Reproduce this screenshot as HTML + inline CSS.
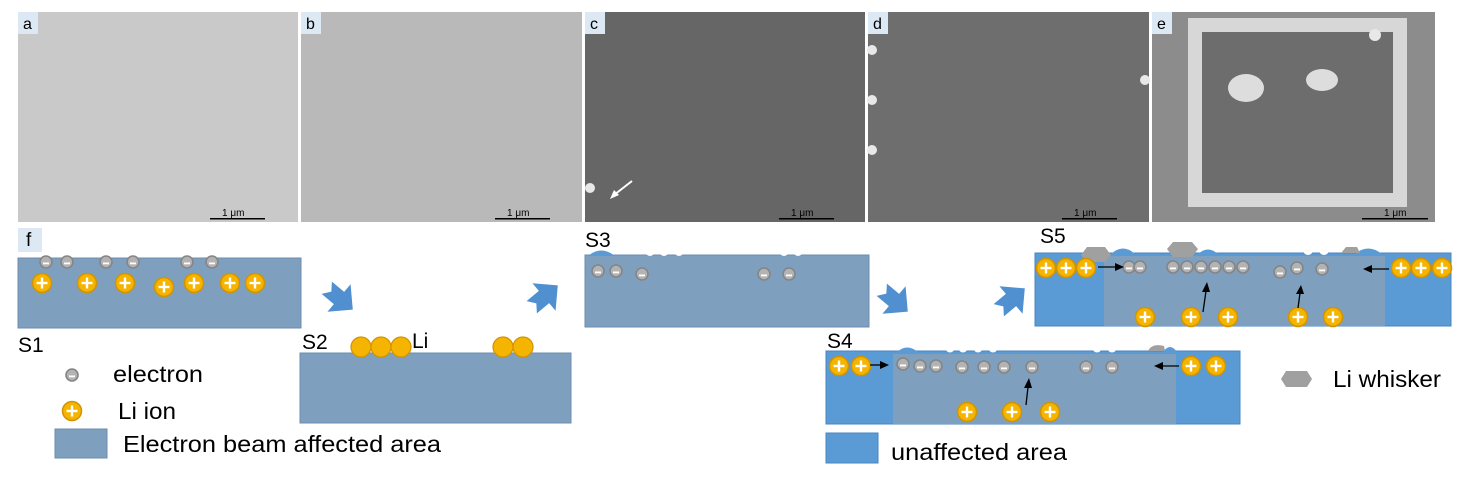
<!DOCTYPE html>
<html><head><meta charset="utf-8"><style>
html,body{margin:0;padding:0;background:#fff;}
svg{display:block;font-family:"Liberation Sans",sans-serif;}
</style></head><body>
<svg width="1471" height="485" viewBox="0 0 1471 485" xmlns="http://www.w3.org/2000/svg">
<defs>
<g id="el"><circle r="6" fill="#b3b3b3" stroke="#858585" stroke-width="1.6"/><rect x="-3" y="0.5" width="6" height="1.8" fill="#fff"/></g>
<g id="ion"><circle r="9.5" fill="#f5b400" stroke="#d29300" stroke-width="1.5"/><rect x="-5.5" y="-1.2" width="11" height="2.4" fill="#fff"/><rect x="-1.2" y="-5.5" width="2.4" height="11" fill="#fff"/></g>
<polygon id="arr" points="-16,-8 0,-8 0,-18 18,0 0,18 0,8 -16,8 -10,0" fill="#5090d0"/>
</defs>
<!-- SEM panels -->
<rect x="18" y="12" width="280" height="210" fill="#c9c9c9"/>
<rect x="301" y="12" width="281" height="210" fill="#b9b9b9"/>
<rect x="585" y="12" width="280" height="210" fill="#666"/>
<rect x="868" y="12" width="281" height="210" fill="#6e6e6e"/>
<rect x="1152" y="12" width="283" height="210" fill="#8c8c8c"/>
<rect x="1195" y="25" width="205" height="175" fill="#6a6a6a" stroke="#e0e0e0" stroke-width="14" opacity="0.9"/>
<ellipse cx="1246" cy="88" rx="18" ry="14" fill="#ddd"/><ellipse cx="1322" cy="80" rx="16" ry="11" fill="#ddd"/>
<g fill="#e8e8e8"><circle cx="1375" cy="35" r="6"/><circle cx="590" cy="188" r="5"/><circle cx="872" cy="50" r="5"/><circle cx="872" cy="100" r="5"/><circle cx="872" cy="150" r="5"/><circle cx="1145" cy="80" r="5"/></g>
<line x1="632" y1="181" x2="614" y2="195" stroke="#fff" stroke-width="2"/><polygon points="610,199 614,190 619,195" fill="#fff"/>
<g font-size="16" fill="#000">
<rect x="18" y="12" width="20" height="22" fill="#dce9f5"/><text x="23" y="29">a</text>
<rect x="301" y="12" width="20" height="22" fill="#dce9f5"/><text x="306" y="29">b</text>
<rect x="585" y="12" width="20" height="22" fill="#dce9f5"/><text x="590" y="29">c</text>
<rect x="868" y="12" width="20" height="22" fill="#dce9f5"/><text x="873" y="29">d</text>
<rect x="1152" y="12" width="20" height="22" fill="#dce9f5"/><text x="1157" y="29">e</text>
</g>
<g font-size="10" fill="#000">
<text x="222" y="216">1 μm</text><rect x="210" y="218" width="55" height="1.5"/>
<text x="507" y="216">1 μm</text><rect x="495" y="218" width="55" height="1.5"/>
<text x="791" y="216">1 μm</text><rect x="779" y="218" width="55" height="1.5"/>
<text x="1074" y="216">1 μm</text><rect x="1062" y="218" width="55" height="1.5"/>
<text x="1384" y="216">1 μm</text><rect x="1362" y="218" width="66" height="1.5"/>
</g>
<!-- f label -->
<rect x="18" y="228" width="24" height="24" fill="#dce9f5"/><text x="26" y="246" font-size="19">f</text>
<!-- S1 -->
<rect x="18" y="258" width="283" height="70" fill="#7f9fbf" stroke="#6b8cad"/>
<g><use href="#el" x="46" y="262"/><use href="#el" x="67" y="262"/><use href="#el" x="106" y="262"/><use href="#el" x="133" y="262"/><use href="#el" x="187" y="262"/><use href="#el" x="212" y="262"/></g>
<g><use href="#ion" x="42" y="283"/><use href="#ion" x="87" y="283"/><use href="#ion" x="125" y="283"/><use href="#ion" x="164" y="287"/><use href="#ion" x="194" y="283"/><use href="#ion" x="230" y="283"/><use href="#ion" x="255" y="283"/></g>
<text x="18" y="352" font-size="21">S1</text>
<!-- arrows -->
<use href="#arr" transform="translate(339,298) rotate(40)"/>
<use href="#arr" transform="translate(544,297) rotate(-40)"/>
<use href="#arr" transform="translate(894,300) rotate(40)"/>
<use href="#arr" transform="translate(1011,300) rotate(-40)"/>
<!-- S2 -->
<rect x="300" y="353" width="271" height="70" fill="#7f9fbf" stroke="#6b8cad"/>
<g fill="#f5b400" stroke="#d29300" stroke-width="1.2"><circle cx="361" cy="347" r="10"/><circle cx="381" cy="347" r="10"/><circle cx="401" cy="347" r="10"/><circle cx="503" cy="347" r="10"/><circle cx="523" cy="347" r="10"/></g>
<text x="302" y="349" font-size="21">S2</text><text x="412" y="348" font-size="21">Li</text>
<!-- S3 -->
<rect x="585" y="255" width="284" height="72" fill="#7f9fbf" stroke="#6b8cad"/>
<path d="M588,256 Q601,245 615,256 Z" fill="#5b9bd5"/>
<g fill="#fff"><circle cx="650" cy="251" r="5"/><circle cx="664" cy="251" r="5"/><circle cx="679" cy="251" r="5"/><circle cx="784" cy="251" r="5"/><circle cx="798" cy="251" r="5"/></g>
<g><use href="#el" x="598" y="271"/><use href="#el" x="616" y="271"/><use href="#el" x="642" y="274"/><use href="#el" x="764" y="274"/><use href="#el" x="789" y="274"/></g>
<text x="585" y="247" font-size="21">S3</text>
<!-- S5 -->
<rect x="1035" y="253" width="416" height="73" fill="#5b9bd5" stroke="#4a86bf"/>
<rect x="1104" y="256" width="281" height="70" fill="#7f9fbf"/>
<path d="M1111,254 Q1123,243 1135,254 Z M1198,254 Q1208,245 1218,254 Z M1355,254 Q1368,243 1382,254 Z" fill="#5b9bd5"/>
<g fill="#fff"><circle cx="1308" cy="250" r="5"/><circle cx="1324" cy="250" r="5"/></g>
<polygon points="1081,255 1087,247 1105,247 1111,255 1105,262 1087,262" fill="#a0a0a0"/>
<polygon points="1167,249 1173,242 1192,242 1198,249 1192,257 1173,257" fill="#a0a0a0"/>
<polygon points="1341,253 1346,247 1357,247 1360,253" fill="#a0a0a0"/>
<g><use href="#ion" x="1046" y="268"/><use href="#ion" x="1066" y="268"/><use href="#ion" x="1086" y="268"/><use href="#ion" x="1401" y="268"/><use href="#ion" x="1421" y="268"/><use href="#ion" x="1442" y="268"/></g>
<g><use href="#el" x="1129" y="267"/><use href="#el" x="1140" y="267"/>
<use href="#el" x="1173" y="267"/><use href="#el" x="1187" y="267"/><use href="#el" x="1201" y="267"/><use href="#el" x="1215" y="267"/><use href="#el" x="1229" y="267"/><use href="#el" x="1243" y="267"/>
<use href="#el" x="1280" y="272"/><use href="#el" x="1297" y="268"/><use href="#el" x="1322" y="269"/></g>
<g><use href="#ion" x="1145" y="317"/><use href="#ion" x="1191" y="317"/><use href="#ion" x="1228" y="317"/><use href="#ion" x="1298" y="317"/><use href="#ion" x="1333" y="317"/></g>
<text x="1040" y="243" font-size="21">S5</text>
<!-- S4 -->
<rect x="826" y="351" width="414" height="73" fill="#5b9bd5" stroke="#4a86bf"/>
<rect x="893" y="354" width="283" height="70" fill="#7f9fbf"/>
<path d="M897,352 Q907,343 918,352 Z" fill="#5b9bd5"/>
<g fill="#fff"><circle cx="950" cy="348" r="4.5"/><circle cx="963" cy="348" r="4.5"/><circle cx="978" cy="348" r="4.5"/><circle cx="993" cy="348" r="4.5"/><circle cx="1097" cy="348" r="4.5"/><circle cx="1112" cy="348" r="4.5"/></g>
<path d="M1148,351 Q1152,343 1164,346 L1165,351 Z" fill="#a0a0a0"/>
<path d="M1163,352 Q1170,342 1177,352 Z" fill="#5b9bd5"/>
<g><use href="#ion" x="839" y="366"/><use href="#ion" x="861" y="366"/><use href="#ion" x="1191" y="366"/><use href="#ion" x="1216" y="366"/></g>
<g><use href="#el" x="903" y="364"/><use href="#el" x="920" y="366"/><use href="#el" x="936" y="366"/><use href="#el" x="962" y="367"/><use href="#el" x="984" y="367"/><use href="#el" x="1004" y="367"/><use href="#el" x="1032" y="367"/><use href="#el" x="1086" y="367"/><use href="#el" x="1112" y="367"/></g>
<g><use href="#ion" x="967" y="412"/><use href="#ion" x="1012" y="412"/><use href="#ion" x="1050" y="412"/></g>
<text x="827" y="348" font-size="21">S4</text>
<!-- black arrows -->
<g stroke="#000" stroke-width="1.3" fill="#000">
<line x1="1098" y1="267" x2="1116" y2="267"/><polygon points="1124,267 1115,263 1115,271" stroke="none"/>
<line x1="1389" y1="269" x2="1372" y2="269"/><polygon points="1363,269 1372,265 1372,273" stroke="none"/>
<line x1="1203" y1="312" x2="1206" y2="291"/><polygon points="1207,282 1202,292 1210,292" stroke="none"/>
<line x1="1298" y1="308" x2="1300" y2="293"/><polygon points="1301,285 1296,294 1304,294" stroke="none"/>
<line x1="870" y1="365" x2="881" y2="365"/><polygon points="889,365 880,361 880,369" stroke="none"/>
<line x1="1179" y1="366" x2="1162" y2="366"/><polygon points="1154,366 1163,362 1163,370" stroke="none"/>
<line x1="1026" y1="405" x2="1028" y2="387"/><polygon points="1029,378 1024,388 1032,388" stroke="none"/>
</g>
<!-- legends -->
<use href="#el" x="72" y="375"/><text x="113" y="382" font-size="23" textLength="90" lengthAdjust="spacingAndGlyphs">electron</text>
<use href="#ion" x="72" y="411"/><text x="118" y="419" font-size="23" textLength="58" lengthAdjust="spacingAndGlyphs">Li ion</text>
<rect x="55" y="429" width="52" height="29" fill="#7f9fbf" stroke="#6b8cad"/><text x="123" y="452" font-size="23" textLength="318" lengthAdjust="spacingAndGlyphs">Electron beam affected area</text>
<rect x="826" y="433" width="52" height="30" fill="#5b9bd5" stroke="#4a86bf"/><text x="891" y="460" font-size="23" textLength="176" lengthAdjust="spacingAndGlyphs">unaffected area</text>
<polygon points="1281,379 1286,371 1307,371 1312,379 1307,387 1286,387" fill="#a0a0a0"/><text x="1333" y="387" font-size="23" textLength="108" lengthAdjust="spacingAndGlyphs">Li whisker</text>
</svg>
</body></html>
